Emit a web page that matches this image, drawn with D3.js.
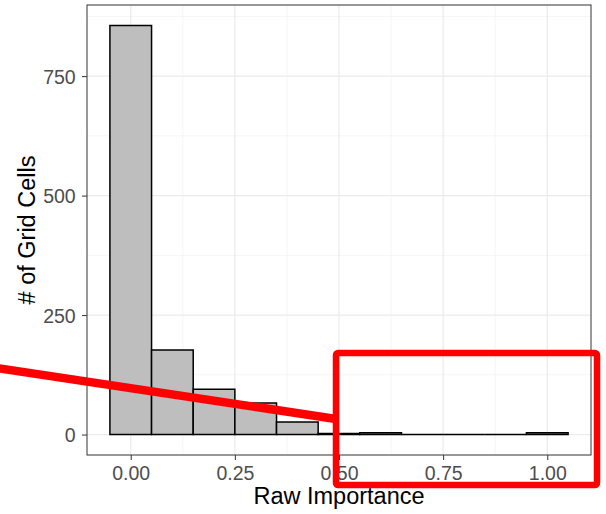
<!DOCTYPE html>
<html>
<head>
<meta charset="utf-8">
<script src="https://d3js.org/d3.v7.min.js"></script>
<style>
  body { margin: 0; background: #fff; }
  svg { display: block; font-family: "Liberation Sans", Arial, sans-serif; }
</style>
</head>
<body>
<div id="chart"></div>
<script>
// histogram bins (centre of bin, width 0.1) and counts
const binCenters = [0.0, 0.1, 0.2, 0.3, 0.4, 0.5, 0.6, 0.7, 0.8, 0.9, 1.0];
const binCounts = [856, 177, 95, 66, 26, 2, 4, 0, 0, 0, 4];
const binWidth = 0.1;
const xTicks = [0, 0.25, 0.5, 0.75, 1.0];
const yTicks = [0, 250, 500, 750];

const W = 606, H = 514;
const panel = { left: 87, top: 5, right: 591, bottom: 455 };

const svg = d3.select("#chart").append("svg")
  .attr("width", W).attr("height", H);

// ggplot-style expanded domains
const xMin = binCenters[0] - binWidth / 2, xMax = binCenters[binCenters.length - 1] + binWidth / 2;
const xPad = (xMax - xMin) * 0.05;
const x = d3.scaleLinear().domain([xMin - xPad, xMax + xPad]).range([panel.left, panel.right]);
const yTop = d3.max(binCounts);
const y = d3.scaleLinear().domain([-yTop * 0.05, yTop * 1.05]).range([panel.bottom, panel.top]);

// grid
const g = svg.append("g");
const xMinor = d3.range(-0.125, 1.2, 0.25).filter(v => v > x.domain()[0] && v < x.domain()[1]);
const yMinor = [125, 375, 625, 875];
g.selectAll(".xminor").data(xMinor).enter().append("line")
  .attr("x1", d => x(d)).attr("x2", d => x(d))
  .attr("y1", panel.top).attr("y2", panel.bottom)
  .attr("stroke", "#f2f2f2").attr("stroke-width", 0.8);
g.selectAll(".yminor").data(yMinor).enter().append("line")
  .attr("y1", d => y(d)).attr("y2", d => y(d))
  .attr("x1", panel.left).attr("x2", panel.right)
  .attr("stroke", "#f2f2f2").attr("stroke-width", 0.8);
g.selectAll(".xmajor").data(xTicks).enter().append("line")
  .attr("x1", d => x(d)).attr("x2", d => x(d))
  .attr("y1", panel.top).attr("y2", panel.bottom)
  .attr("stroke", "#ebebeb").attr("stroke-width", 1.2);
g.selectAll(".ymajor").data(yTicks).enter().append("line")
  .attr("y1", d => y(d)).attr("y2", d => y(d))
  .attr("x1", panel.left).attr("x2", panel.right)
  .attr("stroke", "#ebebeb").attr("stroke-width", 1.2);

// bars (paths so empty bins still show their outline at zero)
svg.selectAll("path.bar").data(binCenters).enter().append("path")
  .attr("class", "bar")
  .attr("d", (d, i) => {
    const x0 = x(d - binWidth / 2), x1 = x(d + binWidth / 2);
    const y0 = y(0), y1 = y(binCounts[i]);
    return `M${x0},${y0}V${y1}H${x1}V${y0}Z`;
  })
  .attr("fill", "#bebebe")
  .attr("stroke", "#000")
  .attr("stroke-width", 1.5);

// panel border
svg.append("rect")
  .attr("x", panel.left).attr("y", panel.top)
  .attr("width", panel.right - panel.left).attr("height", panel.bottom - panel.top)
  .attr("fill", "none").attr("stroke", "#333").attr("stroke-width", 1);

// axes
const xAxis = svg.append("g")
  .attr("transform", `translate(0,${panel.bottom})`)
  .call(d3.axisBottom(x).tickValues(xTicks).tickFormat(d3.format(".2f")).tickSize(5).tickPadding(6.5));
const yAxis = svg.append("g")
  .attr("transform", `translate(${panel.left},0)`)
  .call(d3.axisLeft(y).tickValues(yTicks).tickSize(5).tickPadding(6.3));
[xAxis, yAxis].forEach(a => {
  a.select(".domain").remove();
  a.selectAll(".tick line").attr("stroke", "#333").attr("stroke-width", 1);
  a.selectAll(".tick text").attr("fill", "#4d4d4d")
    .style("font-size", "19.5px").style("font-family", "Liberation Sans, Arial, sans-serif");
});
yAxis.selectAll(".tick text").attr("dy", "0.36em");

// axis titles
svg.append("text")
  .attr("x", (panel.left + panel.right) / 2).attr("y", 503.5)
  .attr("text-anchor", "middle").style("font-size", "23.5px").attr("fill", "#000")
  .text("Raw Importance");
svg.append("text")
  .attr("transform", `translate(35,${(panel.top + panel.bottom) / 2}) rotate(-90)`)
  .attr("text-anchor", "middle").style("font-size", "23.5px").attr("fill", "#000")
  .text("# of Grid Cells");

// red annotation: callout box and pointer line
const box = { x0: 336, y0: 353, x1: 597, y1: 485 };
svg.append("line")
  .attr("x1", -5).attr("y1", 367.7).attr("x2", box.x0).attr("y2", 419)
  .attr("stroke", "#ff0000").attr("stroke-width", 8.5);
svg.append("rect")
  .attr("x", box.x0).attr("y", box.y0)
  .attr("width", box.x1 - box.x0).attr("height", box.y1 - box.y0)
  .attr("rx", 2)
  .attr("fill", "none").attr("stroke", "#ff0000").attr("stroke-width", 6.5)
  .attr("stroke-linejoin", "round");
</script>
</body>
</html>
